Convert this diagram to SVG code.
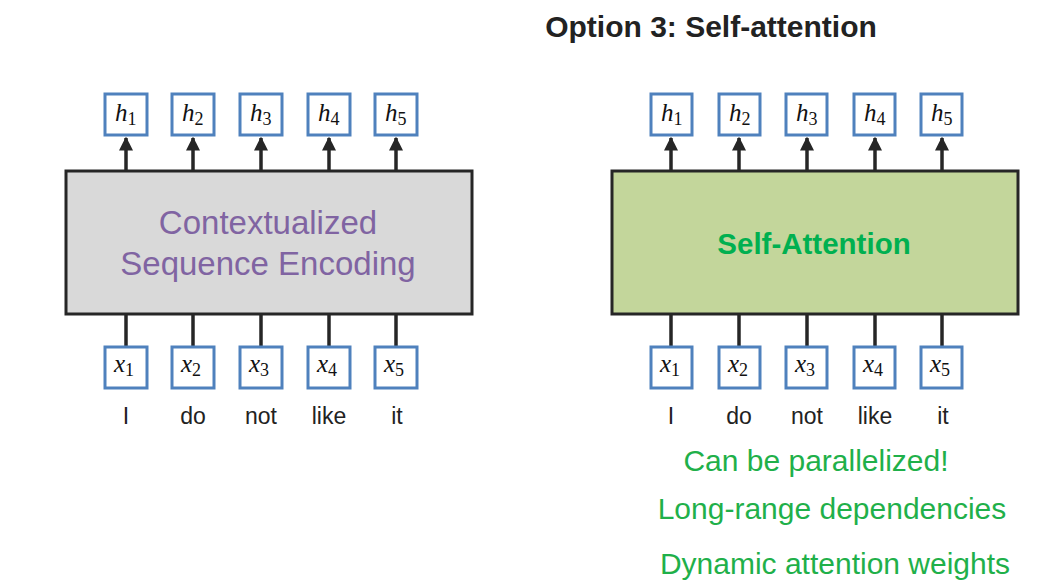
<svg xmlns="http://www.w3.org/2000/svg" width="1059" height="588" viewBox="0 0 1059 588">
<defs>
<marker id="ah" viewBox="0 0 10 10" refX="9" refY="5" markerWidth="4" markerHeight="4" orient="auto" markerUnits="strokeWidth">
<path d="M0,0 L10,5 L0,10 z" fill="#262626"/>
</marker>
<style>
.vb{fill:#fff;stroke:#4f81bd;stroke-width:3}
.m{font-family:"Liberation Serif",serif;font-style:italic;font-size:25px;fill:#111}
.sub{font-style:normal;font-size:18px}
.w{font-family:"Liberation Sans",Arial,sans-serif;font-size:23px;fill:#222;text-anchor:middle}
.ln{stroke:#262626;stroke-width:3.5;fill:none}
.g{font-family:"Liberation Sans",Arial,sans-serif;font-size:30px;fill:#1fb04a;text-anchor:middle}
</style>
</defs>
<rect width="1059" height="588" fill="#fff"/>
<text x="711" y="37" font-family="Liberation Sans,Arial,sans-serif" font-weight="bold" font-size="30" fill="#222" text-anchor="middle">Option 3: Self-attention</text>

<g id="connectors">
<line class="ln" x1="126" y1="171" x2="126" y2="138" marker-end="url(#ah)"/>
<line class="ln" x1="193" y1="171" x2="193" y2="138" marker-end="url(#ah)"/>
<line class="ln" x1="261" y1="171" x2="261" y2="138" marker-end="url(#ah)"/>
<line class="ln" x1="329" y1="171" x2="329" y2="138" marker-end="url(#ah)"/>
<line class="ln" x1="396" y1="171" x2="396" y2="138" marker-end="url(#ah)"/>
<line class="ln" x1="126" y1="314" x2="126" y2="346"/>
<line class="ln" x1="193" y1="314" x2="193" y2="346"/>
<line class="ln" x1="261" y1="314" x2="261" y2="346"/>
<line class="ln" x1="329" y1="314" x2="329" y2="346"/>
<line class="ln" x1="396" y1="314" x2="396" y2="346"/>
<line class="ln" x1="671" y1="171" x2="671" y2="138" marker-end="url(#ah)"/>
<line class="ln" x1="739" y1="171" x2="739" y2="138" marker-end="url(#ah)"/>
<line class="ln" x1="807" y1="171" x2="807" y2="138" marker-end="url(#ah)"/>
<line class="ln" x1="875" y1="171" x2="875" y2="138" marker-end="url(#ah)"/>
<line class="ln" x1="942" y1="171" x2="942" y2="138" marker-end="url(#ah)"/>
<line class="ln" x1="671" y1="314" x2="671" y2="346"/>
<line class="ln" x1="739" y1="314" x2="739" y2="346"/>
<line class="ln" x1="807" y1="314" x2="807" y2="346"/>
<line class="ln" x1="875" y1="314" x2="875" y2="346"/>
<line class="ln" x1="942" y1="314" x2="942" y2="346"/>
</g>

<g id="encoder">
<rect x="66" y="171" width="406" height="143" fill="#d9d9d9" stroke="#262626" stroke-width="3"/>
<text x="268" y="234" font-family="Liberation Sans,Arial,sans-serif" font-size="33" fill="#8064a2" text-anchor="middle">Contextualized</text>
<text x="268" y="275" font-family="Liberation Sans,Arial,sans-serif" font-size="33" fill="#8064a2" text-anchor="middle">Sequence Encoding</text>
</g>
<g id="selfattn">
<rect x="612" y="171" width="406" height="143" fill="#c3d69b" stroke="#262626" stroke-width="3"/>
<text x="814" y="254" font-family="Liberation Sans,Arial,sans-serif" font-weight="bold" font-size="29.5" fill="#00b050" text-anchor="middle">Self-Attention</text>
</g>

<g id="L_h1"><rect class="vb" x="105" y="94" width="42" height="41"/><text class="m" x="115" y="121">h<tspan class="sub" dy="4">1</tspan></text></g>
<g id="L_h2"><rect class="vb" x="172" y="94" width="42" height="41"/><text class="m" x="182" y="121">h<tspan class="sub" dy="4">2</tspan></text></g>
<g id="L_h3"><rect class="vb" x="240" y="94" width="42" height="41"/><text class="m" x="250" y="121">h<tspan class="sub" dy="4">3</tspan></text></g>
<g id="L_h4"><rect class="vb" x="308" y="94" width="42" height="41"/><text class="m" x="318" y="121">h<tspan class="sub" dy="4">4</tspan></text></g>
<g id="L_h5"><rect class="vb" x="375" y="94" width="42" height="41"/><text class="m" x="385" y="121">h<tspan class="sub" dy="4">5</tspan></text></g>

<g id="L_x1"><rect class="vb" x="105" y="347" width="42" height="41"/><text class="m" x="114" y="372">x<tspan class="sub" dy="4">1</tspan></text></g>
<g id="L_x2"><rect class="vb" x="172" y="347" width="42" height="41"/><text class="m" x="181" y="372">x<tspan class="sub" dy="4">2</tspan></text></g>
<g id="L_x3"><rect class="vb" x="240" y="347" width="42" height="41"/><text class="m" x="249" y="372">x<tspan class="sub" dy="4">3</tspan></text></g>
<g id="L_x4"><rect class="vb" x="308" y="347" width="42" height="41"/><text class="m" x="317" y="372">x<tspan class="sub" dy="4">4</tspan></text></g>
<g id="L_x5"><rect class="vb" x="375" y="347" width="42" height="41"/><text class="m" x="384" y="372">x<tspan class="sub" dy="4">5</tspan></text></g>

<g id="R_h1"><rect class="vb" x="651" y="94" width="41" height="41"/><text class="m" x="661" y="121">h<tspan class="sub" dy="4">1</tspan></text></g>
<g id="R_h2"><rect class="vb" x="719" y="94" width="41" height="41"/><text class="m" x="729" y="121">h<tspan class="sub" dy="4">2</tspan></text></g>
<g id="R_h3"><rect class="vb" x="786" y="94" width="41" height="41"/><text class="m" x="796" y="121">h<tspan class="sub" dy="4">3</tspan></text></g>
<g id="R_h4"><rect class="vb" x="854" y="94" width="41" height="41"/><text class="m" x="864" y="121">h<tspan class="sub" dy="4">4</tspan></text></g>
<g id="R_h5"><rect class="vb" x="921" y="94" width="41" height="41"/><text class="m" x="931" y="121">h<tspan class="sub" dy="4">5</tspan></text></g>

<g id="R_x1"><rect class="vb" x="651" y="347" width="41" height="41"/><text class="m" x="660" y="372">x<tspan class="sub" dy="4">1</tspan></text></g>
<g id="R_x2"><rect class="vb" x="719" y="347" width="41" height="41"/><text class="m" x="728" y="372">x<tspan class="sub" dy="4">2</tspan></text></g>
<g id="R_x3"><rect class="vb" x="786" y="347" width="41" height="41"/><text class="m" x="795" y="372">x<tspan class="sub" dy="4">3</tspan></text></g>
<g id="R_x4"><rect class="vb" x="854" y="347" width="41" height="41"/><text class="m" x="863" y="372">x<tspan class="sub" dy="4">4</tspan></text></g>
<g id="R_x5"><rect class="vb" x="921" y="347" width="41" height="41"/><text class="m" x="930" y="372">x<tspan class="sub" dy="4">5</tspan></text></g>

<g id="words">
<text class="w" x="126" y="424">I</text>
<text class="w" x="193" y="424">do</text>
<text class="w" x="261" y="424">not</text>
<text class="w" x="329" y="424">like</text>
<text class="w" x="397" y="424">it</text>
<text class="w" x="671" y="424">I</text>
<text class="w" x="739" y="424">do</text>
<text class="w" x="807" y="424">not</text>
<text class="w" x="875" y="424">like</text>
<text class="w" x="943" y="424">it</text>
</g>

<g id="notes">
<text class="g" x="816" y="471">Can be parallelized!</text>
<text class="g" x="832" y="519">Long-range dependencies</text>
<text class="g" x="835" y="574">Dynamic attention weights</text>
</g>
</svg>
